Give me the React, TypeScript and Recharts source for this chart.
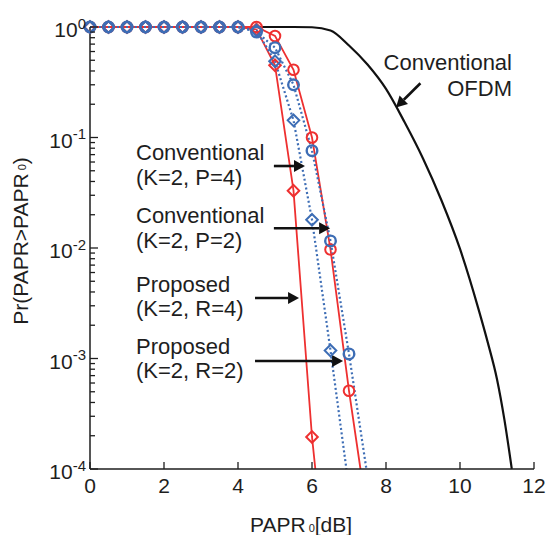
import React from "react";
import { LineChart, Line, XAxis, YAxis, ReferenceLine } from "recharts";

// marker positions (PAPR0 in dB) shared by the four CCDF curves
const markerX = [0, 0.5, 1, 1.5, 2, 2.5, 3, 3.5, 4, 4.5, 5, 5.5, 6, 6.5, 7];

// Proposed (K=2, R=2) - red circles
const redCircleY = [1, 1, 1, 1, 1, 1, 1, 1, 1, 1, 0.83, 0.41, 0.1, 0.0097, 0.00051];
const redCircleEnd = 7.31;
// Conventional (K=2, P=2) - blue circles
const blueCircleY = [1, 1, 1, 1, 1, 1, 1, 1, 1, 0.9, 0.65, 0.3, 0.076, 0.0116, 0.0011];
const blueCircleEnd = 7.47;
// Conventional (K=2, P=4) - blue diamonds
const blueDiamondY = [1, 1, 1, 1, 1, 1, 1, 1, 1, 0.93, 0.49, 0.143, 0.018, 0.00118];
const blueDiamondEnd = 6.93;
// Proposed (K=2, R=4) - red diamonds
const redDiamondY = [1, 1, 1, 1, 1, 1, 1, 1, 1, 0.95, 0.45, 0.033, 0.000195];
const redDiamondEnd = 6.09;

// Conventional OFDM
const ofdmX = [0, 1, 2, 3, 4, 5, 5.5, 6, 6.5, 7, 7.5, 8, 8.5, 9, 9.5, 10, 10.5, 10.75, 11, 11.2, 11.4];
const ofdmY = [1, 1, 1, 1, 1, 1, 1, 0.995, 0.93, 0.68, 0.457, 0.275, 0.138, 0.0646, 0.0269, 0.0098, 0.0028, 0.0014, 0.00065, 0.00028, 0.0001];

const xTicks = [0, 2, 4, 6, 8, 10, 12];
const decades = [-4, -3, -2, -1, 0];
const minorSteps = [2, 3, 4, 5, 6, 7, 8, 9];
const FLOOR = 1e-4;

// arrows: [x, y] tail -> tip, in data units
const arrowFrom = [[8.93, 0.31], [4.97, 0.0552], [4.97, 0.0151], [4.46, 0.00353], [4.46, 0.000949]];
const arrowTo = [[8.27, 0.187], [5.81, 0.0552], [6.49, 0.0151], [5.65, 0.00353], [6.84, 0.000949]];

const yTicks = [
  ...decades,
  ...decades.slice(0, -1).flatMap((d) => minorSteps.map((m) => Math.log10(m) + d)),
].map((e) => Math.pow(10, e)).sort((a, b) => a - b);

const RED = "#ee3030";
const BLUE = "#3d6db5";
const INK = "#1e1e1e";
const FONT = "'Liberation Sans', Arial, sans-serif";

const toSeries = (ys: number[], end: number) => [
  ...ys.map((y, i) => ({ x: markerX[i], y })),
  { x: end, y: FLOOR, tail: true },
];
const ofdmData = ofdmX.map((x, i) => ({ x, y: ofdmY[i] }));

const circleDot = (color: string, w: number) => (p: any) =>
  p.payload?.tail ? (
    <g key={p.key} />
  ) : (
    <circle key={p.key} cx={p.cx} cy={p.cy} r={5.3} fill="none" stroke={color} strokeWidth={w} />
  );

const diamondDot = (color: string) => (p: any) => {
  if (p.payload?.tail) return <g key={p.key} />;
  const { cx, cy } = p;
  const s = 5.8;
  return (
    <path
      key={p.key}
      d={`M${cx},${cy - s}L${cx + s},${cy}L${cx},${cy + s}L${cx - s},${cy}Z`}
      fill="none"
      stroke={color}
      strokeWidth={2}
    />
  );
};

const isDecade = (v: number) => {
  const e = Math.round(Math.log10(v));
  return Math.abs(v / Math.pow(10, e) - 1) < 1e-6;
};

const LeftTick = (p: any) => {
  const v = p.payload.value;
  const major = isDecade(v);
  const exp = Math.round(Math.log10(v));
  return (
    <g>
      <line x1={p.x} x2={p.x + (major ? 8 : 5)} y1={p.y} y2={p.y} stroke={INK} strokeWidth={1.3} />
      {major && (
        <text x={p.x - 4} y={p.y + 10} textAnchor="end" fontSize={21} fontFamily={FONT} fill={INK}>
          10
          <tspan dy={-8.5} fontSize={15}>
            {exp}
          </tspan>
        </text>
      )}
    </g>
  );
};

const RightTick = (p: any) => {
  const major = isDecade(p.payload.value);
  return <line x1={p.x} x2={p.x - (major ? 8 : 5)} y1={p.y} y2={p.y} stroke={INK} strokeWidth={1.3} />;
};

const BottomTick = (p: any) => (
  <g>
    <line x1={p.x} x2={p.x} y1={p.y} y2={p.y - 7} stroke={INK} strokeWidth={1.3} />
    <text x={p.x} y={p.y + 23.5} textAnchor="middle" fontSize={21} fontFamily={FONT} fill={INK}>
      {p.payload.value}
    </text>
  </g>
);

const TopTick = (p: any) => <line x1={p.x} x2={p.x} y1={p.y} y2={p.y + 7} stroke={INK} strokeWidth={1.3} />;

const Arrow = (p: any) => {
  const { x1, y1, x2, y2 } = p;
  const a = Math.atan2(y2 - y1, x2 - x1);
  const L = 11;
  const W = 6;
  const bx = x2 - L * Math.cos(a);
  const by = y2 - L * Math.sin(a);
  return (
    <g>
      <line x1={x1} y1={y1} x2={bx} y2={by} stroke="#111" strokeWidth={2.6} />
      <polygon
        points={`${x2},${y2} ${bx - W * Math.sin(a)},${by + W * Math.cos(a)} ${bx + W * Math.sin(a)},${by - W * Math.cos(a)}`}
        fill="#111"
      />
    </g>
  );
};

const axisStroke = { stroke: INK, strokeWidth: 1.5 };

export default function App() {
  return (
    <div style={{ position: "absolute", left: 0, top: 0, width: 547, height: 535, background: "#fff" }}>
      <LineChart width={547} height={535} margin={{ top: 27, right: 13, left: 0, bottom: 0 }}>
        <XAxis
          dataKey="x"
          type="number"
          domain={[0, 12]}
          ticks={xTicks}
          interval={0}
          height={66}
          tickSize={0}
          tickMargin={0}
          axisLine={axisStroke}
          tickLine={false}
          tick={(p: any) => <BottomTick {...p} />}
        />
        <XAxis
          xAxisId="top"
          orientation="top"
          type="number"
          domain={[0, 12]}
          ticks={xTicks}
          interval={0}
          height={0}
          tickSize={0}
          tickMargin={0}
          axisLine={axisStroke}
          tickLine={false}
          tick={(p: any) => <TopTick {...p} />}
          allowDataOverflow
        />
        <YAxis
          scale="log"
          domain={[FLOOR, 1]}
          ticks={yTicks}
          interval={0}
          width={90}
          tickSize={0}
          tickMargin={0}
          axisLine={axisStroke}
          tickLine={false}
          tick={(p: any) => <LeftTick {...p} />}
        />
        <YAxis
          yAxisId="right"
          orientation="right"
          scale="log"
          domain={[FLOOR, 1]}
          ticks={yTicks}
          interval={0}
          width={0}
          tickSize={0}
          tickMargin={0}
          axisLine={axisStroke}
          tickLine={false}
          tick={(p: any) => <RightTick {...p} />}
          allowDataOverflow
        />
        <Line
          data={ofdmData}
          dataKey="y"
          name="Conventional OFDM"
          type="monotone"
          stroke="#111"
          strokeWidth={2.2}
          dot={false}
          isAnimationActive={false}
        />
        <Line
          data={toSeries(redDiamondY, redDiamondEnd)}
          dataKey="y"
          name="Proposed (K=2, R=4)"
          type="linear"
          stroke={RED}
          strokeWidth={1.8}
          dot={diamondDot(RED)}
          isAnimationActive={false}
        />
        <Line
          data={toSeries(redCircleY, redCircleEnd)}
          dataKey="y"
          name="Proposed (K=2, R=2)"
          type="linear"
          stroke={RED}
          strokeWidth={1.8}
          dot={circleDot(RED, 2)}
          isAnimationActive={false}
        />
        <Line
          data={toSeries(blueDiamondY, blueDiamondEnd)}
          dataKey="y"
          name="Conventional (K=2, P=4)"
          type="linear"
          stroke={BLUE}
          strokeWidth={2.2}
          strokeDasharray="2 2.5"
          dot={diamondDot(BLUE)}
          isAnimationActive={false}
        />
        <Line
          data={toSeries(blueCircleY, blueCircleEnd)}
          dataKey="y"
          name="Conventional (K=2, P=2)"
          type="linear"
          stroke={BLUE}
          strokeWidth={2.2}
          strokeDasharray="2 2.5"
          dot={circleDot(BLUE, 2.4)}
          isAnimationActive={false}
        />
        {arrowFrom.map((f, i) => (
          <ReferenceLine
            key={i}
            segment={[
              { x: f[0], y: f[1] },
              { x: arrowTo[i][0], y: arrowTo[i][1] },
            ]}
            shape={(p: any) => <Arrow {...p} />}
            ifOverflow="visible"
          />
        ))}
      </LineChart>
      <svg
        width={547}
        height={535}
        style={{ position: "absolute", left: 0, top: 0, pointerEvents: "none" }}
        fontFamily={FONT}
        fill={INK}
      >
        <text fontSize={22} textAnchor="end">
          <tspan x={512} y={70}>Conventional</tspan>
          <tspan x={512} y={95.7}>OFDM</tspan>
        </text>
        <text fontSize={22}>
          <tspan x={136} y={160}>Conventional</tspan>
          <tspan x={136} y={184.5}>(K=2, P=4)</tspan>
          <tspan x={136} y={223.3}>Conventional</tspan>
          <tspan x={136} y={248}>(K=2, P=2)</tspan>
          <tspan x={136} y={291.7}>Proposed</tspan>
          <tspan x={136} y={316}>(K=2, R=4)</tspan>
          <tspan x={136} y={354}>Proposed</tspan>
          <tspan x={136} y={378.3}>(K=2, R=2)</tspan>
        </text>
        <text x={250} y={532} fontSize={21}>
          PAPR
          <tspan dx={3} fontSize={11}>0</tspan>
          <tspan>[dB]</tspan>
        </text>
        <text x={27.7} y={241} fontSize={21} textAnchor="middle" transform="rotate(-90 27.7 241)">
          Pr(PAPR&gt;PAPR
          <tspan dx={3} dy={-2} fontSize={11}>0</tspan>
          <tspan dy={2}>)</tspan>
        </text>
      </svg>
    </div>
  );
}
